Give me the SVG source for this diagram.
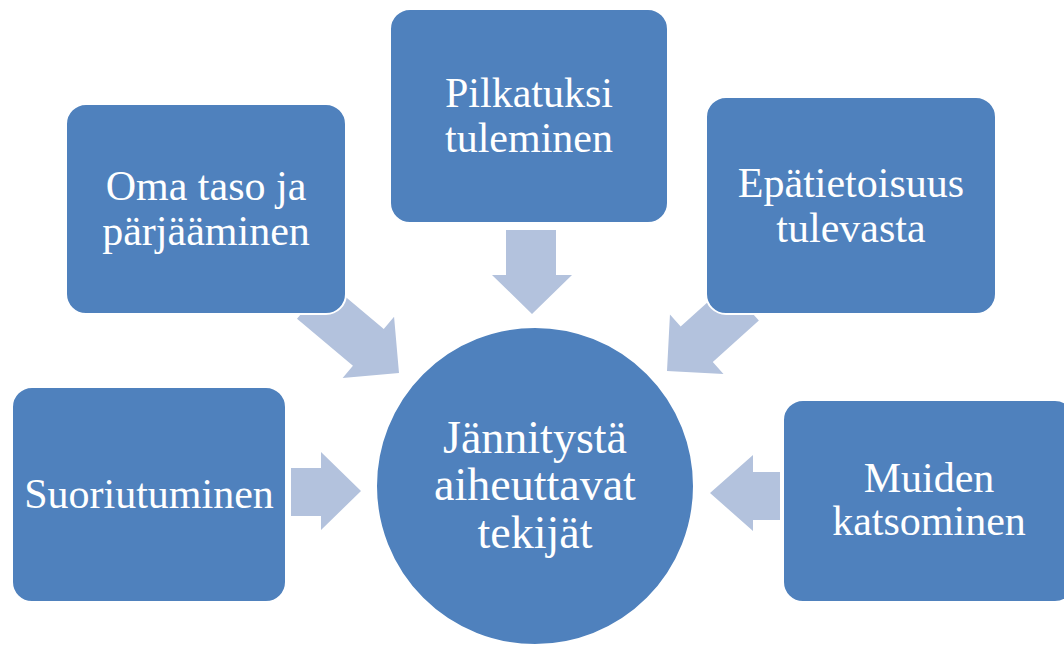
<svg xmlns="http://www.w3.org/2000/svg" width="1064" height="645" viewBox="0 0 1064 645">
  <style>
    .box { fill: #4F81BD; stroke: #FFFFFF; stroke-width: 2; }
    .hub { fill: #4F81BD; stroke: #FFFFFF; stroke-width: 2; }
    .arrow { fill: #B3C2DD; }
    .label { font-family: "Liberation Serif", "Times New Roman", serif; font-size: 42px; fill: #FFFFFF; text-anchor: middle; }
    .hub-label { font-size: 46px; }
  </style>
  <defs>
    <!-- block arrow pointing along +x, tip at the origin -->
    <polygon id="diag-long" points="-113,-24 -40,-24 -40,-40 0,0 -40,40 -40,24 -113,24"/>
    <polygon id="diag-short" points="-102,-24 -40,-24 -40,-40 0,0 -40,40 -40,24 -102,24"/>
  </defs>

  <rect width="1064" height="645" fill="#FFFFFF"/>

  <g id="connectors">
    <use href="#diag-long" class="arrow" transform="translate(399,373) rotate(40)"/>
    <polygon class="arrow" points="506,230 556,230 556,275 572,275 532,314 492,275 506,275"/>
    <use href="#diag-short" class="arrow" transform="translate(667,371) rotate(138)"/>
    <polygon class="arrow" points="291,468 321,468 321,452 361,491 321,530 321,516 291,516"/>
    <polygon class="arrow" points="780,472 753,472 753,455 710,493 753,531 753,520 780,520"/>
  </g>

  <g id="node-oma-taso">
    <rect class="box" x="66" y="104" width="280" height="210" rx="20"/>
    <text class="label" x="206" y="200">Oma taso ja</text>
    <text class="label" x="206" y="245">pärjääminen</text>
  </g>

  <g id="node-pilkatuksi">
    <rect class="box" x="390" y="9" width="278" height="214" rx="20"/>
    <text class="label" x="529" y="107">Pilkatuksi</text>
    <text class="label" x="529" y="152">tuleminen</text>
  </g>

  <g id="node-epatietoisuus">
    <rect class="box" x="706" y="97" width="290" height="217" rx="20"/>
    <text class="label" x="851" y="197">Epätietoisuus</text>
    <text class="label" x="851" y="242">tulevasta</text>
  </g>

  <g id="node-suoriutuminen">
    <rect class="box" x="12" y="387" width="274" height="215" rx="20"/>
    <text class="label" x="149" y="508">Suoriutuminen</text>
  </g>

  <g id="node-muiden">
    <rect class="box" x="783" y="400" width="292" height="202" rx="20"/>
    <text class="label" x="929" y="492">Muiden</text>
    <text class="label" x="929" y="535">katsominen</text>
  </g>

  <g id="node-center">
    <circle class="hub" cx="535" cy="486" r="159"/>
    <text class="label hub-label" x="535" y="453">Jännitystä</text>
    <text class="label hub-label" x="535" y="500">aiheuttavat</text>
    <text class="label hub-label" x="535" y="548">tekijät</text>
  </g>
</svg>
